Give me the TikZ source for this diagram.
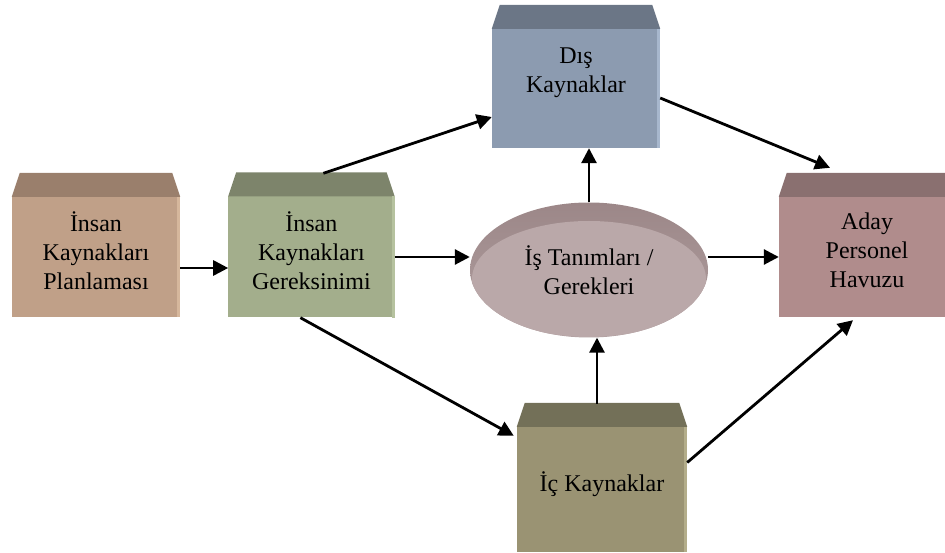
\documentclass[tikz,border=0pt]{standalone}
\usepackage{fontspec}
\setmainfont{Liberation Serif}
\usetikzlibrary{positioning,shapes.geometric,arrows.meta}
\definecolor{planfront}{HTML}{C0A088}
\definecolor{plantop}{HTML}{9A7F6C}
\definecolor{planside}{HTML}{D6B79C}
\definecolor{gerekfront}{HTML}{A3AE8C}
\definecolor{gerektop}{HTML}{7D846B}
\definecolor{gerekside}{HTML}{B6C29F}
\definecolor{disfront}{HTML}{8C9BB0}
\definecolor{distop}{HTML}{6B7686}
\definecolor{disside}{HTML}{A7B7CD}
\definecolor{adayfront}{HTML}{B08C8C}
\definecolor{adaytop}{HTML}{8A7070}
\definecolor{adayside}{HTML}{B08C8C}
\definecolor{icfront}{HTML}{9A9373}
\definecolor{ictop}{HTML}{737058}
\definecolor{icside}{HTML}{B3AD8A}
\definecolor{tanimrim}{HTML}{9C8788}
\definecolor{tanimface}{HTML}{BAA8A9}

\begin{document}
\begin{tikzpicture}[x=1pt,y=1pt,box/.style={rectangle,inner sep=0pt,align=center,font=\fontsize{24}{29}\selectfont},tanim/.style={ellipse,inner sep=0pt,minimum width=238pt,minimum height=135pt,align=center,font=\fontsize{24}{29}\selectfont,top color=tanimrim,bottom color=tanimface!95!black,path picture={\fill[tanimface] ([yshift=-9pt]path picture bounding box.center) ellipse (117pt and 58pt);}},arr/.style={line width=2.8pt,-{Triangle[length=15pt,width=15pt]}}]
	\useasboundingbox (0,0) rectangle (945,552);

	\node[box,fill=planfront,minimum width=168pt,minimum height=120pt]			(plan)	at (96,295)	{İnsan\\Kaynakları\\Planlaması\\[-16pt]~};
	\node[box,fill=gerekfront,minimum width=166pt,minimum height=121pt,right=48pt of plan]	(gerek)	{İnsan\\Kaynakları\\Gereksinimi\\[-16pt]~};
	\node[box,fill=disfront,minimum width=168pt,minimum height=119pt]			(dis)	at (576,463.5)	{Dış\\Kaynaklar\\[8pt]~};
	\node[box,fill=adayfront,minimum width=176pt,minimum height=120pt]			(aday)	at (867,295)	{Aday\\Personel\\Havuzu\\[-16pt]~};
	\node[box,fill=icfront,minimum width=170pt,minimum height=125pt]			(ic)	at (602,62.5)	{İç Kaynaklar\\[-13pt]~};
	\node[tanim]													(tanim)	at (589,282)	{İş Tanımları /\\Gerekleri};

	\foreach \n/\t/\s in {plan/plantop/planside,gerek/gerektop/gerekside,dis/distop/disside,aday/adaytop/adayside,ic/ictop/icside}
	{
		\fill[\t] (\n.north west) -- ([xshift=8pt,yshift=24pt]\n.north west) -- ([xshift=-8pt,yshift=24pt]\n.north east) -- (\n.north east) -- cycle;
		\fill[\s] ([xshift=-3pt]\n.north east) rectangle (\n.south east);
	}

	\draw[arr] ([yshift=-11pt]plan.east) -- ([yshift=-11pt]gerek.west);
	\draw[arr] (gerek.east) -- (gerek.east -| tanim.west);
	\draw[arr] ([xshift=12pt,yshift=23pt]gerek.north) -- ([yshift=-28.5pt]dis.west);
	\draw[arr] ([xshift=-11pt]gerek.south) -- ([xshift=-3pt,yshift=-9pt]ic.north west);
	\draw[arr] ([yshift=-9.5pt]dis.east) -- ([xshift=-37pt,yshift=29pt]aday.north);
	\draw[arr] (tanim.north) -- (tanim.north |- dis.south);
	\coordinate (icup) at ([xshift=-5pt,yshift=23pt]ic.north);
	\draw[arr] (icup) -- (icup |- tanim.south);
	\draw[arr] (aday.west -| tanim.east) -- (aday.west);
	\draw[arr] ([yshift=27pt]ic.east) -- ([xshift=-14pt,yshift=-3pt]aday.south);
\end{tikzpicture}
\end{document}
